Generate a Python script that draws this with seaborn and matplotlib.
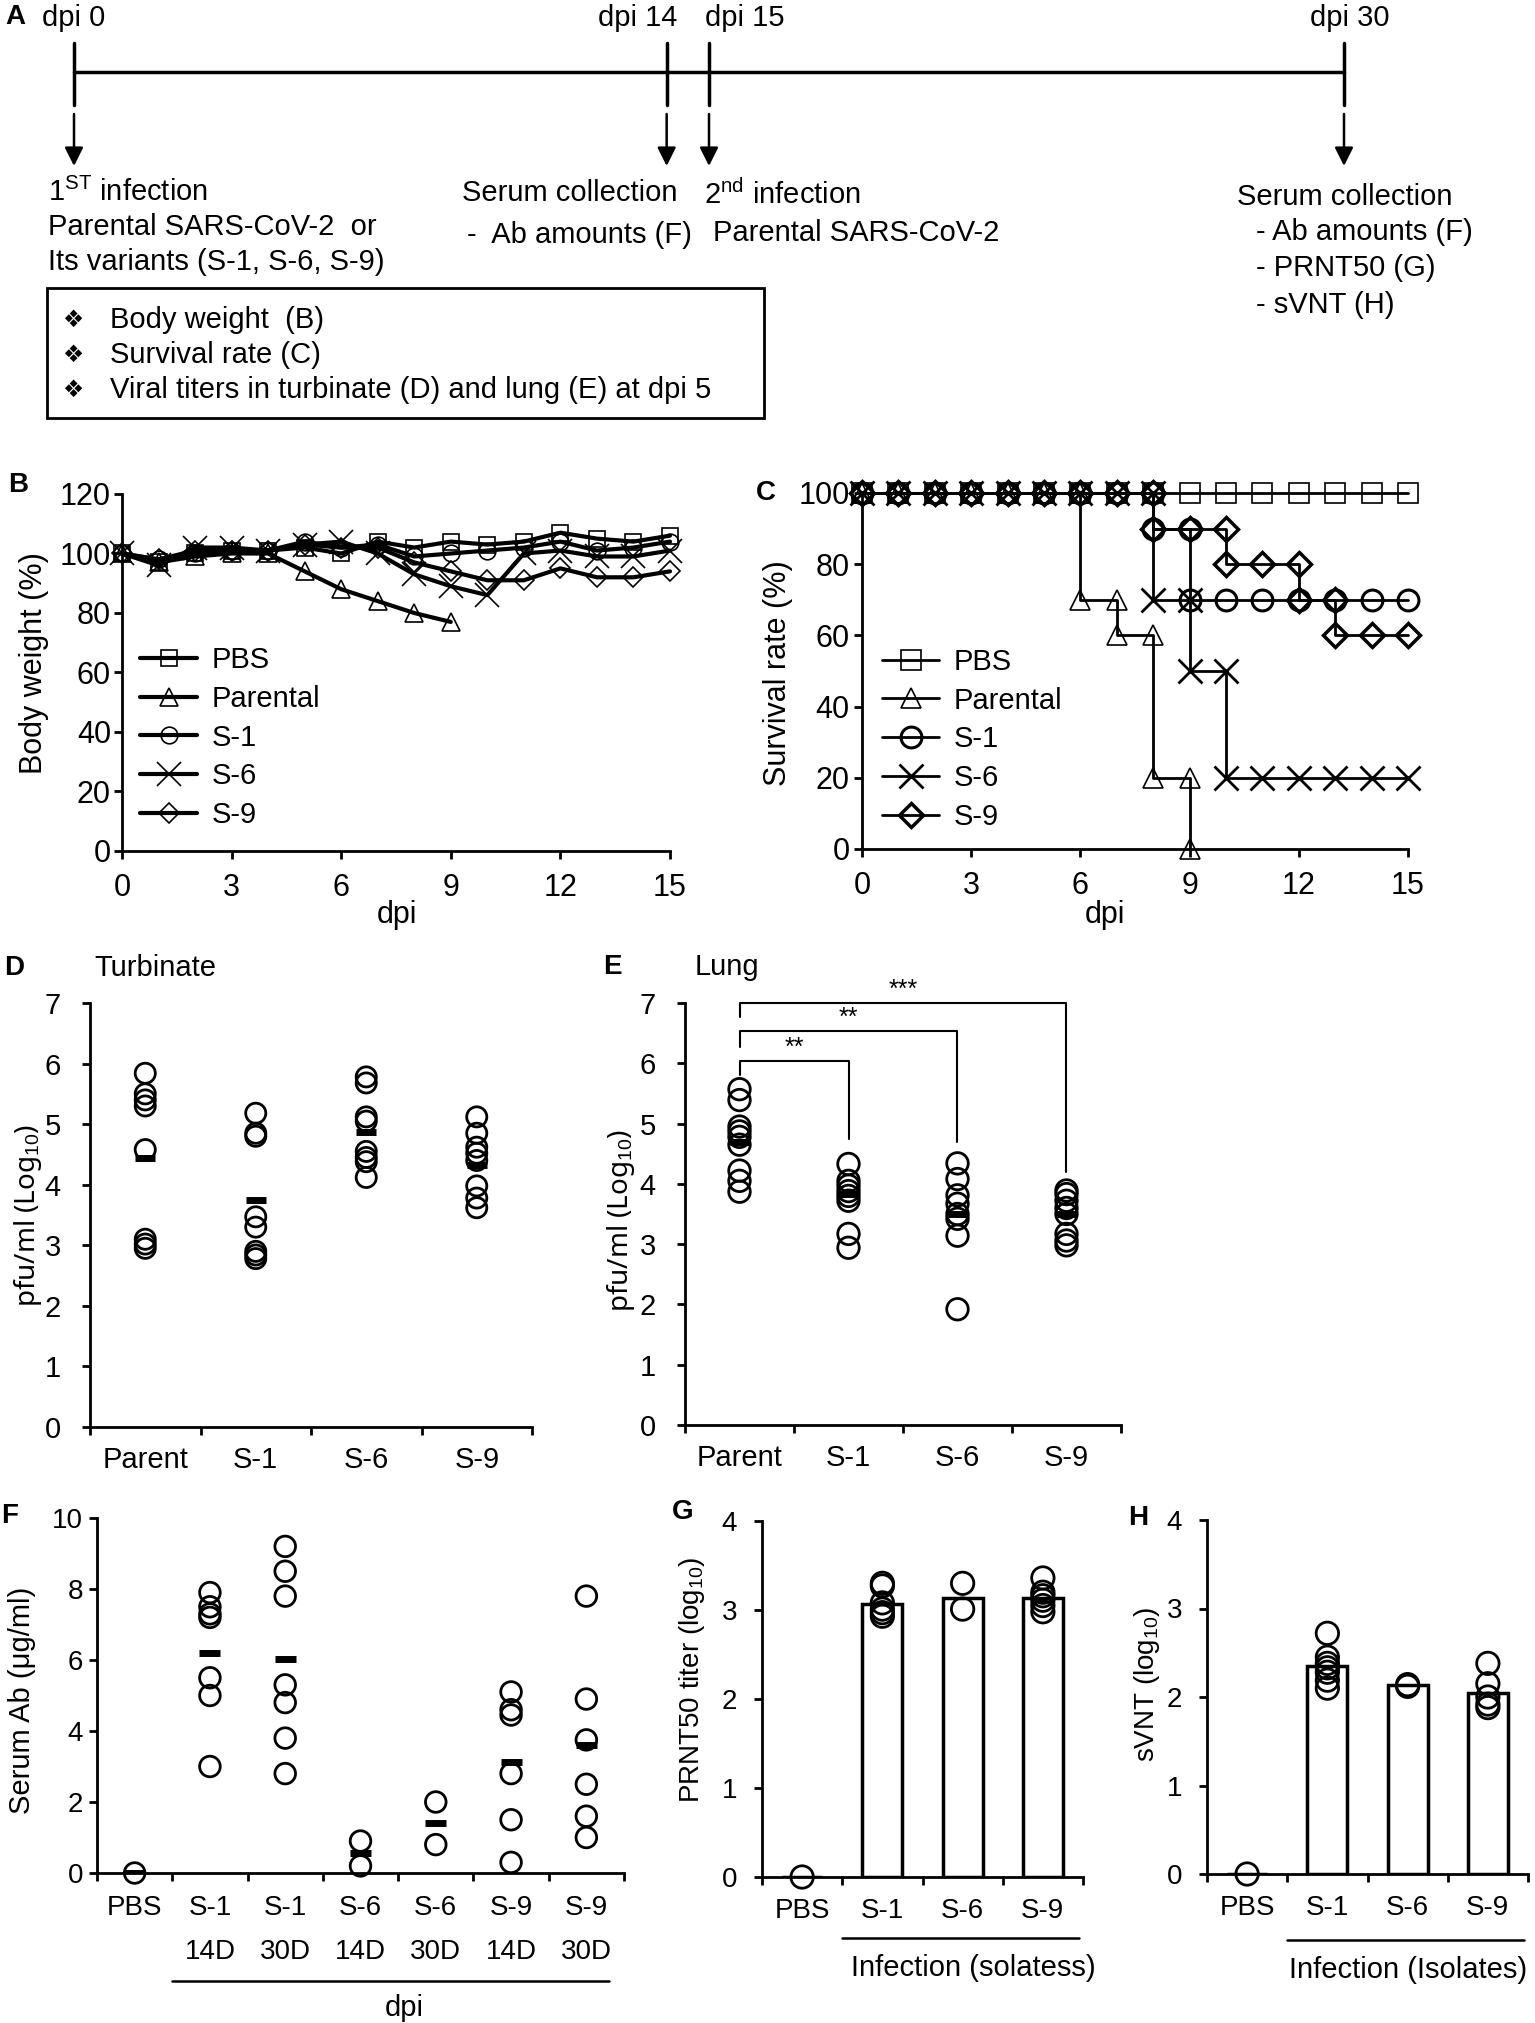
import numpy as np
import matplotlib
matplotlib.use("Agg")
import matplotlib.pyplot as plt
import seaborn as sns
from matplotlib.patches import Rectangle
from matplotlib.transforms import blended_transform_factory

# ---------------- data ----------------
timeline_days = [0, 14, 15, 30]
timeline_labels = ["dpi 0", "dpi 14", "dpi 15", "dpi 30"]

groups_bc = ["PBS", "Parental", "S-1", "S-6", "S-9"]

# body weight (%), panel B
bw_days = list(range(16))
bw_pbs = [100, 97, 100, 101, 101, 102, 100, 104, 102, 104, 103, 104, 107, 105, 104, 106]
bw_parental = [100, 97, 99, 100, 100, 94, 88, 84, 80, 77]
bw_s1 = [100, 98, 100, 101, 101, 104, 102, 103, 99, 100, 101, 102, 104, 101, 102, 104]
bw_s6 = [100, 96, 102, 102, 101, 103, 104, 100, 93, 89, 86, 100, 101, 99, 99, 101]
bw_s9 = [100, 98, 101, 101, 101, 103, 102, 102, 97, 94, 91, 91, 95, 92, 92, 94]

# survival (%), panel C (repeated day = step)
sv_pbs_x = list(range(16))
sv_pbs_y = [100] * 16
sv_par_x = [0, 1, 2, 3, 4, 5, 6, 6, 7, 7, 8, 8, 9, 9]
sv_par_y = [100, 100, 100, 100, 100, 100, 100, 70, 70, 60, 60, 20, 20, 0]
sv_s1_x = [0, 1, 2, 3, 4, 5, 6, 7, 8, 8, 9, 9, 10, 11, 12, 13, 14, 15]
sv_s1_y = [100, 100, 100, 100, 100, 100, 100, 100, 100, 90, 90, 70, 70, 70, 70, 70, 70, 70]
sv_s6_x = [0, 1, 2, 3, 4, 5, 6, 7, 8, 8, 9, 9, 10, 10, 11, 12, 13, 14, 15]
sv_s6_y = [100, 100, 100, 100, 100, 100, 100, 100, 100, 70, 70, 50, 50, 20, 20, 20, 20, 20, 20]
sv_s9_x = [0, 1, 2, 3, 4, 5, 6, 7, 8, 8, 9, 10, 10, 11, 12, 12, 13, 13, 14, 15]
sv_s9_y = [100, 100, 100, 100, 100, 100, 100, 100, 100, 90, 90, 90, 80, 80, 80, 70, 70, 60, 60, 60]

# viral titers, panels D / E
titer_cats = ["Parent", "S-1", "S-6", "S-9"]
turb_parent = [5.84, 5.50, 5.40, 5.30, 4.58, 3.10, 3.02, 2.95]
turb_s1 = [5.18, 4.85, 4.80, 3.47, 3.30, 2.90, 2.84, 2.78]
turb_s6 = [5.78, 5.68, 5.12, 5.05, 4.55, 4.45, 4.38, 4.12]
turb_s9 = [5.12, 4.85, 4.62, 4.52, 4.40, 3.98, 3.78, 3.62]
turb_means = [4.44, 3.75, 4.87, 4.33]

lung_parent = [5.57, 5.39, 4.95, 4.87, 4.78, 4.65, 4.22, 4.05, 3.87]
lung_s1 = [4.33, 4.05, 3.97, 3.88, 3.80, 3.72, 3.17, 2.94]
lung_s6 = [4.34, 4.08, 3.81, 3.67, 3.50, 3.42, 3.14, 1.92]
lung_s9 = [3.89, 3.83, 3.72, 3.60, 3.50, 3.17, 3.06, 2.98]
lung_means = [4.70, 3.83, 3.50, 3.50]

sig_right = [1, 2, 3]
sig_level = [6.04, 6.53, 7.0]
sig_left_end = [5.80, 6.27, 6.77]
sig_right_end = [4.75, 4.70, 4.20]
sig_text = ["**", "**", "***"]

# serum Ab, panel F
ab_cats = ["PBS", "S-1\n14D", "S-1\n30D", "S-6\n14D", "S-6\n30D", "S-9\n14D", "S-9\n30D"]
ab_pbs = [0.0]
ab_s1_14 = [7.9, 7.5, 7.3, 7.2, 5.5, 5.0, 3.0]
ab_s1_30 = [9.2, 8.5, 7.8, 5.3, 4.8, 3.8, 2.8]
ab_s6_14 = [0.9, 0.2]
ab_s6_30 = [2.0, 0.8]
ab_s9_14 = [5.1, 4.6, 4.45, 2.8, 1.5, 0.3]
ab_s9_30 = [7.8, 4.9, 3.75, 2.5, 1.6, 1.0]
ab_means = [0.0, 6.2, 6.02, 0.55, 1.4, 3.12, 3.6]

# PRNT50, panel G ; sVNT, panel H
iso_cats = ["PBS", "S-1", "S-6", "S-9"]
prnt_bars = [0.0, 3.07, 3.14, 3.13]
prnt_pbs = [0.0]
prnt_s1 = [3.30, 3.27, 3.08, 3.01, 2.97, 2.93]
prnt_s6 = [3.30, 3.01]
prnt_s9 = [3.36, 3.20, 3.16, 3.11, 3.05, 2.98]

svnt_bars = [0.0, 2.35, 2.13, 2.05]
svnt_pbs = [0.0]
svnt_s1 = [2.72, 2.45, 2.38, 2.33, 2.28, 2.19, 2.10]
svnt_s6 = [2.14, 2.12]
svnt_s9 = [2.38, 2.15, 2.00, 1.92, 1.88]

# ---------------- style ----------------
sns.set_style("ticks", rc={"axes.edgecolor": "black", "xtick.color": "black",
                           "ytick.color": "black", "text.color": "black",
                           "axes.labelcolor": "black"})
plt.rcParams["font.family"] = ["Liberation Sans", "DejaVu Sans"]
plt.rcParams["mathtext.fontset"] = "custom"
plt.rcParams["mathtext.rm"] = "Liberation Sans"
plt.rcParams["mathtext.it"] = "Liberation Sans:italic"
plt.rcParams["mathtext.bf"] = "Liberation Sans:bold"

W, H = 1535, 2023
fig = plt.figure(figsize=(W / 100, H / 100), dpi=100)


def rect(x0, x1, y0, y1):
    return [x0 / W, 1 - y1 / H, (x1 - x0) / W, (y1 - y0) / H]


def ftext(x, y, s, **kw):
    kw.setdefault("va", "center")
    fig.text(x / W, 1 - y / H, s, **kw)


def base_style(ax, fs, xpad, ypad):
    ax.spines[["top", "right"]].set_visible(False)
    for side in ["left", "bottom"]:
        ax.spines[side].set_linewidth(2)
    ax.tick_params(axis="both", which="both", width=2, length=6, direction="out")
    ax.tick_params(axis="x", labelsize=fs, pad=xpad)
    ax.tick_params(axis="y", labelsize=fs, pad=ypad)
    ax.set_xlabel("")
    ax.set_ylabel("")


def category_axis(ax, labels, fs, pad):
    n = len(labels)
    ax.set_xlim(-0.5, n - 0.5)
    ax.set_xticks(range(n))
    ax.set_xticklabels(labels)
    ax.set_xticks(np.arange(-0.5, n), minor=True)
    ax.tick_params(axis="x", which="major", length=0, labelsize=fs, pad=pad)
    ax.tick_params(axis="x", which="minor", length=6, width=2)


def strip_points(ax, groups, size):
    xs = np.concatenate([[i] * len(g) for i, g in enumerate(groups)])
    ys = np.concatenate(groups)
    sns.scatterplot(x=xs, y=ys, ax=ax, s=size, marker="o", facecolors="none",
                    edgecolor="black", linewidth=2, clip_on=False, zorder=4,
                    legend=False)


# ---------------- panel A ----------------
axA = fig.add_axes(rect(74, 1344, 0, 300))
axA.set_xlim(0, 30)
axA.set_ylim(300, 0)
axA.axis("off")
axA.plot([timeline_days[0], timeline_days[-1]], [72, 72], color="black", lw=2.5, clip_on=False)
label_ha = ["center", "right", "left", "center"]
label_dx = [0, 8, -3, 4]
for d, lab, ha, dx in zip(timeline_days, timeline_labels, label_ha, label_dx):
    axA.plot([d, d], [43, 105], color="black", lw=2.5, clip_on=False)
    axA.annotate("", xy=(d, 166), xytext=(d, 114),
                 arrowprops=dict(arrowstyle="-|>", lw=1.8, color="black",
                                 mutation_scale=28, shrinkA=0, shrinkB=0))
    axA.annotate(lab, xy=(d, 18), xytext=(dx, 0), textcoords="offset points",
                 ha=ha, va="center", fontsize=21, annotation_clip=False)

fsA = 21
ftext(48, 192, r"1$^{\mathregular{ST}}$ infection", fontsize=fsA)
ftext(48, 227, "Parental SARS-CoV-2  or", fontsize=fsA)
ftext(48, 262, "Its variants (S-1, S-6, S-9)", fontsize=fsA)
ftext(462, 193, "Serum collection", fontsize=fsA)
ftext(467, 235, "-  Ab amounts (F)", fontsize=fsA)
ftext(704, 195, r"2$^{\mathregular{nd}}$ infection", fontsize=fsA)
ftext(713, 233, "Parental SARS-CoV-2", fontsize=fsA)
ftext(1237, 197, "Serum collection", fontsize=fsA)
ftext(1256, 232, "- Ab amounts (F)", fontsize=fsA)
ftext(1256, 268, "- PRNT50 (G)", fontsize=fsA)
ftext(1256, 305, "- sVNT (H)", fontsize=fsA)
fig.patches.append(Rectangle((47 / W, 1 - 418 / H), (764 - 47) / W, (418 - 288) / H,
                             transform=fig.transFigure, fill=False, lw=2, ec="black"))
for yy, s in zip([320, 355, 390], ["Body weight  (B)", "Survival rate (C)",
                                   "Viral titers in turbinate (D) and lung (E) at dpi 5"]):
    ftext(62, yy, "\u2756", fontsize=17, family=["DejaVu Sans"])
    ftext(110, yy, s, fontsize=fsA)

# ---------------- panel B ----------------
markers = ["s", "^", "o", "x", "D"]
msize = [12, 13, 12, 17, 10]
axB = fig.add_axes(rect(122, 670, 494, 851))
bw_series = [bw_pbs, bw_parental, bw_s1, bw_s6, bw_s9]
for name, vals, m, ms in zip(groups_bc, bw_series, markers, msize):
    sns.lineplot(x=bw_days[:len(vals)], y=vals, ax=axB, color="black", lw=3,
                 marker=m, markersize=ms, markerfacecolor="none",
                 markeredgecolor="black", markeredgewidth=1.2, label=name,
                 estimator=None, sort=False, clip_on=False)
axB.set_xlim(0, 15)
axB.set_ylim(0, 120)
axB.set_xticks(range(0, 16, 3))
axB.set_yticks(range(0, 121, 20))
base_style(axB, 22, 10, 2)
axB.legend(loc="upper left", bbox_to_anchor=(0.033, 0.574), frameon=False,
           fontsize=21, handlelength=1.95, handletextpad=0.5, labelspacing=0.37,
           borderpad=0, borderaxespad=0)

# ---------------- panel C ----------------
axC = fig.add_axes(rect(862, 1408, 493, 849))
sv_series = [(sv_pbs_x, sv_pbs_y), (sv_par_x, sv_par_y), (sv_s1_x, sv_s1_y),
             (sv_s6_x, sv_s6_y), (sv_s9_x, sv_s9_y)]
c_ms = [14, 15, 15, 17, 12]
c_mew = [1.2, 1.2, 2.2, 2.0, 2.5]
for name, (xs, ys), m, ms, mew in zip(groups_bc, sv_series, markers, c_ms, c_mew):
    sns.lineplot(x=xs, y=ys, ax=axC, color="black", lw=2, marker=m, markersize=ms,
                 markerfacecolor="none", markeredgecolor="black", markeredgewidth=mew,
                 label=name, estimator=None, sort=False, clip_on=False)
axC.set_xlim(0, 15)
axC.set_ylim(0, 100)
axC.set_xticks(range(0, 16, 3))
axC.set_yticks(range(0, 101, 20))
base_style(axC, 22, 10, 3)
axC.legend(loc="upper left", bbox_to_anchor=(0.037, 0.565), frameon=False,
           fontsize=21, handlelength=1.95, handletextpad=0.5, labelspacing=0.37,
           borderpad=0, borderaxespad=0)

# ---------------- panel D ----------------
axD = fig.add_axes(rect(90, 532, 1003, 1427))
strip_points(axD, [turb_parent, turb_s1, turb_s6, turb_s9], 210)
pos = np.arange(len(titer_cats))
axD.hlines(turb_means, pos - 0.09, pos + 0.09, color="black", lw=5, zorder=5)
axD.set_ylim(0, 7)
axD.set_yticks(range(0, 8))
base_style(axD, 21, 13, 15)
category_axis(axD, titer_cats, 21, 14)

# ---------------- panel E ----------------
axE = fig.add_axes(rect(685, 1121, 1003, 1425))
strip_points(axE, [lung_parent, lung_s1, lung_s6, lung_s9], 240)
axE.hlines(lung_means, pos - 0.09, pos + 0.09, color="black", lw=5, zorder=5)
axE.set_ylim(0, 7)
axE.set_yticks(range(0, 8))
base_style(axE, 21, 13, 15)
category_axis(axE, titer_cats, 21, 14)
for r, lvl, le, re, t in zip(sig_right, sig_level, sig_left_end, sig_right_end, sig_text):
    axE.plot([0, 0, r, r], [le, lvl, lvl, re], color="black", lw=1.5, clip_on=False)
    axE.text(r / 2, lvl + 0.02, t, ha="center", va="bottom", fontsize=18)

# ---------------- panel F ----------------
axF = fig.add_axes(rect(97, 624, 1518, 1873))
strip_points(axF, [ab_pbs, ab_s1_14, ab_s1_30, ab_s6_14, ab_s6_30, ab_s9_14, ab_s9_30], 220)
fpos = np.arange(len(ab_cats))
axF.hlines(ab_means, fpos - 0.14, fpos + 0.14, color="black", lw=5, zorder=5)
axF.set_ylim(0, 10)
axF.set_yticks(range(0, 11, 2))
base_style(axF, 20, 12, 4)
category_axis(axF, ab_cats, 20, 16)
for lbl in axF.get_xticklabels():
    lbl.set_linespacing(1.9)
trF = blended_transform_factory(axF.transData, axF.transAxes)
axF.plot([0.5, 6.3], [-0.305, -0.305], color="black", lw=1.8, transform=trF, clip_on=False)
axF.text(3.58, -0.38, "dpi", transform=trF, ha="center", va="center", fontsize=21)

# ---------------- panel G ----------------
axG = fig.add_axes(rect(762, 1083, 1521, 1877))
sns.barplot(x=iso_cats, y=prnt_bars, ax=axG, color="white", edgecolor="black",
            linewidth=2.5, width=0.5, zorder=2)
strip_points(axG, [prnt_pbs, prnt_s1, prnt_s6, prnt_s9], 260)
axG.set_ylim(0, 4)
axG.set_yticks(range(0, 5))
base_style(axG, 20, 12, 12)
category_axis(axG, iso_cats, 20, 15)
trG = blended_transform_factory(axG.transData, axG.transAxes)
axG.plot([0.5, 3.45], [-0.171, -0.171], color="black", lw=1.8, transform=trG, clip_on=False)
axG.text(2.13, -0.256, "Infection (solatess)", transform=trG, ha="center", va="center", fontsize=21)

# ---------------- panel H ----------------
axH = fig.add_axes(rect(1207, 1528, 1520, 1874))
sns.barplot(x=iso_cats, y=svnt_bars, ax=axH, color="white", edgecolor="black",
            linewidth=2.5, width=0.5, zorder=2)
strip_points(axH, [svnt_pbs, svnt_s1, svnt_s6, svnt_s9], 260)
axH.set_ylim(0, 4)
axH.set_yticks(range(0, 5))
base_style(axH, 20, 12, 12)
category_axis(axH, iso_cats, 20, 15)
trH = blended_transform_factory(axH.transData, axH.transAxes)
axH.plot([0.5, 3.45], [-0.186, -0.186], color="black", lw=1.8, transform=trH, clip_on=False)
axH.text(2.01, -0.27, "Infection (Isolates)", transform=trH, ha="center", va="center", fontsize=21)

# ---------------- labels ----------------
for x, y, s in [(15, 17, "A"), (18, 485, "B"), (766, 493, "C"), (14, 968, "D"),
                (612, 967, "E"), (10, 1516, "F"), (683, 1512, "G"), (1138, 1518, "H")]:
    ftext(x, y, s, fontsize=20, fontweight="bold", ha="center")

ftext(94, 968, "Turbinate", fontsize=21)
ftext(695, 967, "Lung", fontsize=21)

ftext(34, 663, "Body weight (%)", fontsize=22, rotation=90, ha="center")
ftext(778, 673, "Survival rate (%)", fontsize=22, rotation=90, ha="center")
ftext(397, 915, "dpi", fontsize=22, ha="center")
ftext(1105, 915, "dpi", fontsize=22, ha="center")
ftext(28, 1215, r"pfu/ml (Log$_{10}$)", fontsize=20, rotation=90, ha="center",
      family=["Noto Sans", "DejaVu Sans"])
ftext(621, 1220, r"pfu/ml (Log$_{10}$)", fontsize=20, rotation=90, ha="center",
      family=["Noto Sans", "DejaVu Sans"])
ftext(22, 1700, "Serum Ab (\u03bcg/ml)", fontsize=21, rotation=90, ha="center")
ftext(692, 1680, r"PRNT50 titer (log$_{10}$)", fontsize=20, rotation=90, ha="center")
ftext(1147, 1684, r"sVNT (log$_{10}$)", fontsize=20, rotation=90, ha="center")

fig.savefig("out.png", dpi=100)
